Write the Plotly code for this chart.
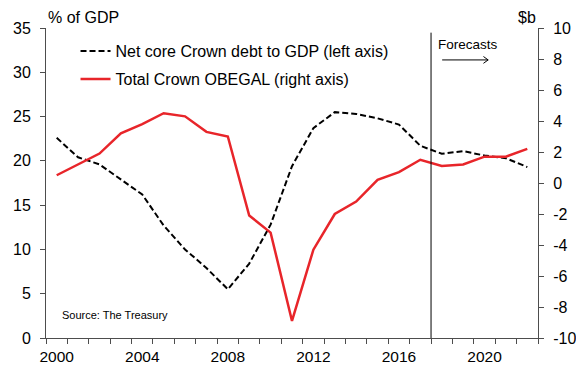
import plotly.graph_objects as go

years = list(range(2000, 2023))
net_core_debt = [22.6, 20.4, 19.6, 17.9, 16.2, 12.7, 10.0, 7.9, 5.5, 8.4, 12.8, 19.4,
                 23.7, 25.5, 25.3, 24.8, 24.1, 21.7, 20.8, 21.1, 20.6, 20.3, 19.3]
obegal = [0.5, 1.2, 1.9, 3.2, 3.8, 4.5, 4.3, 3.3, 3.0, -2.1, -3.2, -8.9,
          -4.3, -2.0, -1.2, 0.2, 0.7, 1.5, 1.1, 1.2, 1.7, 1.7, 2.2]
left_ticks = [0, 5, 10, 15, 20, 25, 30, 35]
right_ticks = [-10, -8, -6, -4, -2, 0, 2, 4, 6, 8, 10]
x_labels = [2000, 2004, 2008, 2012, 2016, 2020]
forecast_start = 2017.5

RED = "#e8252a"
AX = "#4d4d4d"
FONT = "Liberation Sans, Arial, sans-serif"

fig = go.Figure()
fig.add_trace(go.Scatter(x=years, y=obegal, mode="lines", yaxis="y2",
                         name="Total Crown OBEGAL (right axis)",
                         line=dict(color=RED, width=2.5),
                         legendgroup="b", legendrank=2))
fig.add_trace(go.Scatter(x=years, y=net_core_debt, mode="lines",
                         name="Net core Crown debt to GDP (left axis)",
                         line=dict(color="black", width=2, dash="6px,3px"),
                         legendgroup="a", legendrank=1))

fig.update_layout(
    width=576, height=365,
    margin=dict(l=46, r=38, t=28, b=27),
    paper_bgcolor="white", plot_bgcolor="white",
    font=dict(family=FONT, size=16, color="black"),
    showlegend=True,
    legend=dict(x=0.06, y=0.98, xanchor="left", yanchor="top",
                bgcolor="rgba(0,0,0,0)", font=dict(size=16),
                tracegroupgap=4, itemwidth=30),
    xaxis=dict(range=[1999.5, 2022.5], tickvals=x_labels, ticks="",
               showline=True, linecolor=AX, linewidth=1, showgrid=False,
               zeroline=False, ticklabelstandoff=4, automargin=False,
               tickfont=dict(size=15.5),
               minor=dict(tick0=1999.5, dtick=1, ticks="outside", ticklen=5,
                          tickcolor=AX, showgrid=False)),
    yaxis=dict(range=[0, 35], tickvals=left_ticks, ticks="outside", ticklen=5,
               tickcolor=AX, showline=True, linecolor=AX, linewidth=1,
               showgrid=False, zeroline=False, ticklabelstandoff=6, automargin=False),
    yaxis2=dict(range=[-10, 10], tickvals=right_ticks,
                ticktext=[str(v) for v in right_ticks],
                ticks="outside", ticklen=5,
                tickcolor=AX, showline=True, linecolor=AX, linewidth=1,
                showgrid=False, zeroline=False, overlaying="y", side="right",
                anchor="x", ticklabelstandoff=6, automargin=False),
)

fig.add_shape(type="line", xref="x", yref="paper", x0=forecast_start, x1=forecast_start,
              y0=0, y1=0.985, line=dict(color="black", width=1))
# arrow under "Forecasts"
ay = 0.897
fig.add_shape(type="line", xref="x", yref="paper", x0=forecast_start + 0.52,
              x1=forecast_start + 2.67, y0=ay, y1=ay, line=dict(color="black", width=1))
fig.add_shape(type="path", xref="x", yref="paper",
              path=f"M {forecast_start + 2.45},{ay + 0.011} L {forecast_start + 2.67},{ay} L {forecast_start + 2.45},{ay - 0.011}",
              line=dict(color="black", width=1))

fig.add_annotation(text="Forecasts", xref="x", yref="paper", x=forecast_start + 0.24,
                   y=0.947, xanchor="left", yanchor="middle", showarrow=False,
                   font=dict(size=13.5))
fig.add_annotation(text="% of GDP", xref="paper", yref="paper", x=0, y=1,
                   xanchor="left", yanchor="bottom", showarrow=False, font=dict(size=16))
fig.add_annotation(text="$b", xref="paper", yref="paper", x=1, y=1,
                   xanchor="right", yanchor="bottom", showarrow=False, font=dict(size=16))
fig.add_annotation(text="Source: The Treasury", xref="paper", yref="paper", x=0.0285,
                   y=0.073, xanchor="left", yanchor="middle", showarrow=False,
                   font=dict(size=11))

fig.write_html("out.html", config={"displayModeBar": False},
               post_script="document.body.style.margin='0';document.body.style.overflow='hidden';")
